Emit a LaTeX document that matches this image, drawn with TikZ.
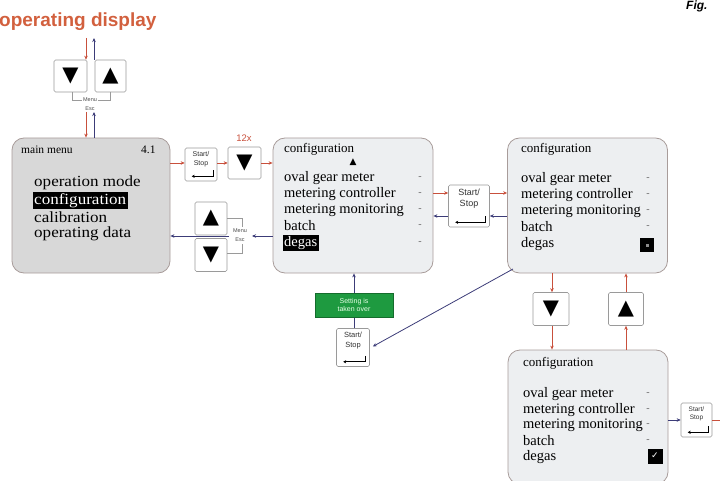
\documentclass[tikz,border=0pt]{standalone}
\usepackage{fontspec}
\setmainfont{Liberation Serif}
\newfontfamily\sansf{Liberation Sans}
\newfontfamily\symf{DejaVu Sans}
\newfontfamily\widef[FakeStretch=1.1]{Liberation Serif}
\usetikzlibrary{arrows.meta,calc}
\definecolor{redc}{HTML}{C8503C}
\definecolor{titc}{HTML}{D2603E}
\definecolor{bluec}{HTML}{3C3C78}
\definecolor{bordc}{HTML}{A89C9A}
\definecolor{btnc}{HTML}{9A9A9A}
\definecolor{mmfill}{HTML}{D8D8D8}
\definecolor{cfill}{HTML}{EDEFF1}
\definecolor{greenc}{HTML}{1E9A40}
\newcommand\ssbutton[7]{%
 \node[btn, minimum width=#4pt, minimum height=#5pt] (#1) at (#2,#3) {};
 \node[anchor=north, inner sep=0, align=center, font=\sansf\fontsize{#6}{#7}\selectfont, text=black!80] (#1t) at ($(#1.north)+(0,4)$) {Start/\\Stop};
 \draw[line width=1.1pt, -{Stealth[length=3pt,width=3.2pt]}] ($(#1.south east)+(-4,-11)$) |- ($(#1.south west)+(7,-5)$);
}
\begin{document}
\begin{tikzpicture}[x=1pt,y=-1pt,
  panel/.style={draw=bordc, line width=0.8pt, rounded corners=12pt, inner sep=0},
  btn/.style={draw=btnc, fill=white, line width=0.6pt, rounded corners=1.5pt, inner sep=0},
  tri/.style={font=\symf\fontsize{21}{21}\selectfont, inner sep=0},
  redarr/.style={draw=redc, line width=0.8pt, -{Stealth[length=4pt,width=3.5pt]}},
  bluearr/.style={draw=bluec, line width=0.8pt, -{Stealth[length=4pt,width=3.5pt]}},
  brk/.style={draw=btnc, line width=0.6pt},
  tiny/.style={font=\sansf\fontsize{5.5}{6}\selectfont, text=black!70, inner sep=0.5pt},
  mmitem/.style={anchor=west, inner sep=0, font=\widef\fontsize{15.5}{15.5}\selectfont},
  citem/.style={anchor=west, inner sep=0, font=\fontsize{14.5}{14.5}\selectfont},
  chead/.style={anchor=west, inner sep=0, font=\fontsize{13}{13}\selectfont},
  dashmark/.style={inner sep=0, font=\fontsize{10}{10}\selectfont, text=black!60},
  hl/.style={fill=black, text=white, inner xsep=1.5pt, inner ysep=1pt}
]
\useasboundingbox (0,0) rectangle (720,481);

% title and Fig.
\node[anchor=west, inner sep=0, text=titc, font=\sansf\bfseries\fontsize{19}{19}\selectfont] (title) at (-1,22) {operating display};
\node[anchor=north west, inner sep=0, font=\sansf\bfseries\itshape\fontsize{12}{12}\selectfont] (fig) at (686,1) {Fig.};

% top buttons
\node[btn, minimum width=33pt, minimum height=32pt] (d0) at (70.5,76) {};
\node[tri] (d0s) at (d0) {▼};
\node[btn, minimum width=31pt, minimum height=32pt] (u0) at (110.5,76) {};
\node[tri] (u0s) at (u0) {▲};
\node[tiny] (me0) at (90,100) {Menu};
\node[tiny] (es0) at (90,109) {Esc};
\draw[brk] (d0.south -| 72,0) |- (me0.west);
\draw[brk] (u0.south -| 110,0) |- (me0.east);
\coordinate (od1) at (86,38);
\coordinate (od2) at (94,38);
\draw[redarr] (od1) -- (d0.north -| 86,0);
\draw[bluearr] (u0.north -| 94,0) -- (od2);

% main menu
\node[panel, fill=mmfill, minimum width=158pt, minimum height=135pt] (mm) at (91,205.5) {};
\node[anchor=west, inner sep=0, font=\fontsize{11.5}{11.5}\selectfont] (mmh) at (21,150) {main menu};
\node[anchor=west, inner sep=0, font=\fontsize{11.5}{11.5}\selectfont] (mmn) at (141,150) {4.1};
\node[mmitem] (mm1) at (34,183) {operation mode};
\node[mmitem, hl] (mm2) at (32.5,200.5) {configuration};
\node[mmitem] (mm3) at (34,217.5) {calibration};
\node[mmitem] (mm4) at (34,234) {operating data};
\coordinate (es0b) at (86,112);
\coordinate (es0c) at (94,112);
\draw[redarr] (es0b) -- (mm.north -| 86,0);
\draw[bluearr] (mm.north -| 94,0) -- (es0c);

% top row from main menu to configuration 1
\ssbutton{ss1}{201}{164.5}{32}{33}{7}{9}
\node[btn, minimum width=33pt, minimum height=32pt] (d1) at (244.5,163) {};
\node[tri] (d1s) at (d1) {▼};
\node[inner sep=0, text=redc, font=\sansf\fontsize{9.5}{9.5}\selectfont] (n12) at (244,138) {12x};

% configuration 1
\node[panel, fill=cfill, minimum width=160pt, minimum height=135pt] (c1) at (353,205.5) {};
\node[chead] (c1h) at (284,149) {configuration};
\node[inner sep=0, font=\symf\fontsize{9}{9}\selectfont] (c1t) at (353,162) {▲};
\node[citem] (c1a) at (284,178) {oval gear meter};
\node[citem] (c1b) at (284,194) {metering controller};
\node[citem] (c1c) at (284,210) {metering monitoring};
\node[citem] (c1d) at (284,226) {batch};
\node[citem, hl] (c1e) at (282.5,243) {degas};
\foreach \y [count=\i] in {178,194,210,226,243} \node[dashmark] (c1m\i) at (420,\y) {-};

\draw[redarr] (mm.east |- 0,163) -- (ss1.west |- 0,163);
\draw[redarr] (ss1.east |- 0,163) -- (d1.west |- 0,163);
\draw[redarr] (d1.east |- 0,163) -- (c1.west |- 0,163);

% lower-left buttons
\node[btn, minimum width=32pt, minimum height=33pt] (u1) at (211,218.5) {};
\node[tri] (u1s) at (u1) {▲};
\node[btn, minimum width=32pt, minimum height=33pt] (d1b) at (211,255) {};
\node[tri] (d1bs) at (d1b) {▼};
\node[tiny] (me1) at (240,231) {Menu};
\node[tiny] (es1) at (240,240) {Esc};
\draw[brk] (u1.east |- 0,218) -- (242,218) -- (242,227);
\draw[brk] (d1b.east |- 0,253) -- (242,253) -- (242,244);
\draw[bluearr] (c1.west |- 0,236) -- (252,236);
\draw[bluearr] (229,236) -- (mm.east |- 0,236);

% configuration 2
\node[panel, fill=cfill, minimum width=160pt, minimum height=135pt] (c2) at (587.5,205.5) {};
\ssbutton{ss2}{469}{206}{41}{42}{9}{11}
\node[chead] (c2h) at (521,149) {configuration};
\node[citem] (c2a) at (521,179) {oval gear meter};
\node[citem] (c2b) at (521,195) {metering controller};
\node[citem] (c2c) at (521,211) {metering monitoring};
\node[citem] (c2d) at (521,227) {batch};
\node[citem] (c2e) at (521,244) {degas};
\foreach \y [count=\i] in {179,195,211,227} \node[dashmark] (c2m\i) at (648,\y) {-};
\node[fill=black, minimum size=14pt, inner sep=0] (c2sq) at (647,245) {};
\node[fill=black!45, minimum size=3pt, inner sep=0] (c2dot) at (c2sq) {};

\draw[redarr] (c1.east |- 0,193) -- (ss2.west |- 0,193);
\draw[redarr] (ss2.east |- 0,193) -- (c2.west |- 0,193);
\draw[bluearr] (c2.west |- 0,216) -- (ss2.east |- 0,216);
\draw[bluearr] (ss2.west |- 0,216) -- (c1.east |- 0,216);

% Setting is taken over
\ssbutton{ss3}{353}{347.5}{33}{38}{7.5}{9.5}
\draw[bluearr] (ss3.north -| 354,0) -- (c1.south -| 354,0);
\node[fill=greenc, draw=greenc!70!black, line width=0.4pt, minimum width=78pt, minimum height=24pt, inner sep=0, align=center, text=white!90!green, font=\sansf\fontsize{7}{8.5}\selectfont] (gr) at (354,305) {Setting is\\taken over};
\coordinate (c2sw) at (513,269);
\draw[bluearr] (c2sw) -- ($(ss3.east)+(3,-1)$);

% right column buttons
\node[btn, minimum width=36pt, minimum height=33pt] (d2) at (551,309) {};
\node[tri] (d2s) at (d2) {▼};
\node[btn, minimum width=35pt, minimum height=33pt] (u2) at (626,309) {};
\node[tri] (u2s) at (u2) {▲};

% configuration 3
\node[panel, fill=cfill, minimum width=160pt, minimum height=134pt] (c3) at (588,417) {};
\draw[redarr] (c2.south -| 552,0) -- (d2.north -| 552,0);
\draw[redarr] (d2.south -| 552,0) -- (c3.north -| 552,0);
\draw[redarr] (c3.north -| 626,0) -- (u2.south -| 626,0);
\draw[redarr] (u2.north -| 626,0) -- (c2.south -| 626,0);
\node[chead] (c3h) at (523,363) {configuration};
\node[citem] (c3a) at (523,394) {oval gear meter};
\node[citem] (c3b) at (523,410) {metering controller};
\node[citem] (c3c) at (523,425) {metering monitoring};
\node[citem] (c3d) at (523,441) {batch};
\node[citem] (c3e) at (523,457) {degas};
\foreach \y [count=\i] in {394,410,425,441} \node[dashmark] (c3m\i) at (648,\y) {-};
\node[fill=black, minimum size=15pt, inner sep=0, text=white, font=\symf\fontsize{9}{9}\selectfont] (c3sq) at (655,456) {✓};

\ssbutton{ss4}{696.5}{420}{31}{34}{6.5}{8}
\draw[bluearr] (c3.east |- 0,420) -- (ss4.west);
\coordinate (rend) at (722,420);
\draw[draw=redc, line width=0.8pt] (ss4.east) -- (rend);
\end{tikzpicture}
\end{document}
